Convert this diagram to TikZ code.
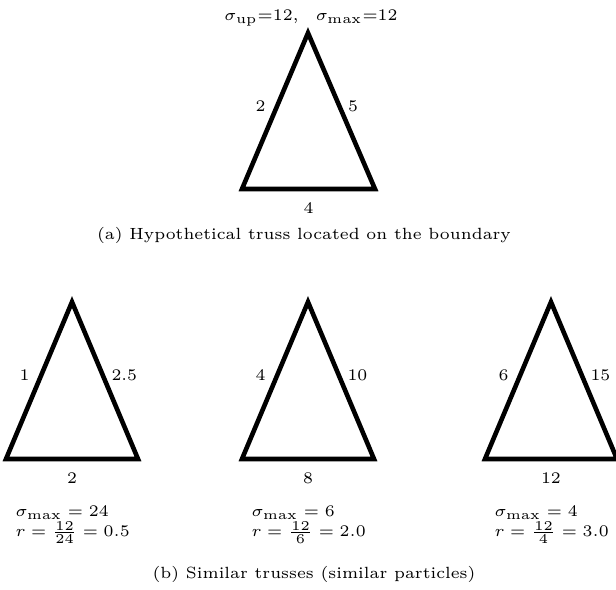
\documentclass[tikz,border=0pt]{standalone}
\usetikzlibrary{calc}
\begin{document}
\begin{tikzpicture}[x=0.37pt, y=-0.37pt,
  every node/.style={font=\fontsize{6}{7}\selectfont},
  truss/.style={line width=1.7pt, line join=miter},
  side/.style={inner sep=0pt},
  caption/.style={anchor=center}]
  \useasboundingbox (0,0) rectangle (616,590);
  % (a) truss on the boundary
  \coordinate (At) at (308,33);
  \coordinate (Lt) at (242,189);
  \coordinate (Rt) at (375,189);
  \draw[truss] (At) -- (Lt) -- (Rt) -- cycle;
  \node[side, anchor=east] (lt) at ($(At)!0.5!(Lt)+(-9,-5)$) {2};
  \node[side, anchor=west] (rt) at ($(At)!0.5!(Rt)+(6,-5)$) {5};
  \node (bt) at ($(Lt)!0.5!(Rt)+(0,19)$) {4};
  \node (st) at (311,18) {$\sigma_{\mathrm{up}}{=}12,\ \ \sigma_{\mathrm{max}}{=}12$};
  \node[caption] (capa) at (304,235) {(a) Hypothetical truss located on the boundary};
  % (b) similar trusses
  \foreach \n/\ax/\lt/\rt/\bs/\sm/\rv in {p/72/1/2.5/2/24/0.5, q/308/4/10/8/6/2.0, s/551/6/15/12/4/3.0} {
    \coordinate (A\n) at (\ax,302);
    \coordinate (L\n) at (\ax-66,459);
    \coordinate (R\n) at (\ax+66,459);
    \draw[truss] (A\n) -- (L\n) -- (R\n) -- cycle;
    \node[side, anchor=east] (l\n) at ($(A\n)!0.5!(L\n)+(-9,-5)$) {\lt};
    \node[side, anchor=west] (r\n) at ($(A\n)!0.5!(R\n)+(6,-5)$) {\rt};
    \node (b\n) at ($(L\n)!0.5!(R\n)+(0,19)$) {\bs};
    \node[anchor=base west, inner sep=0pt] (m\n) at (\ax-57,517) {$\sigma_{\max}=\sm$};
    \node[anchor=base west, inner sep=0pt] (v\n) at (\ax-57,537) {$r=\frac{12}{\sm}=\rv$};
  }
  \node[caption] (capb) at (314,574) {(b) Similar trusses (similar particles)};
\end{tikzpicture}
\end{document}
